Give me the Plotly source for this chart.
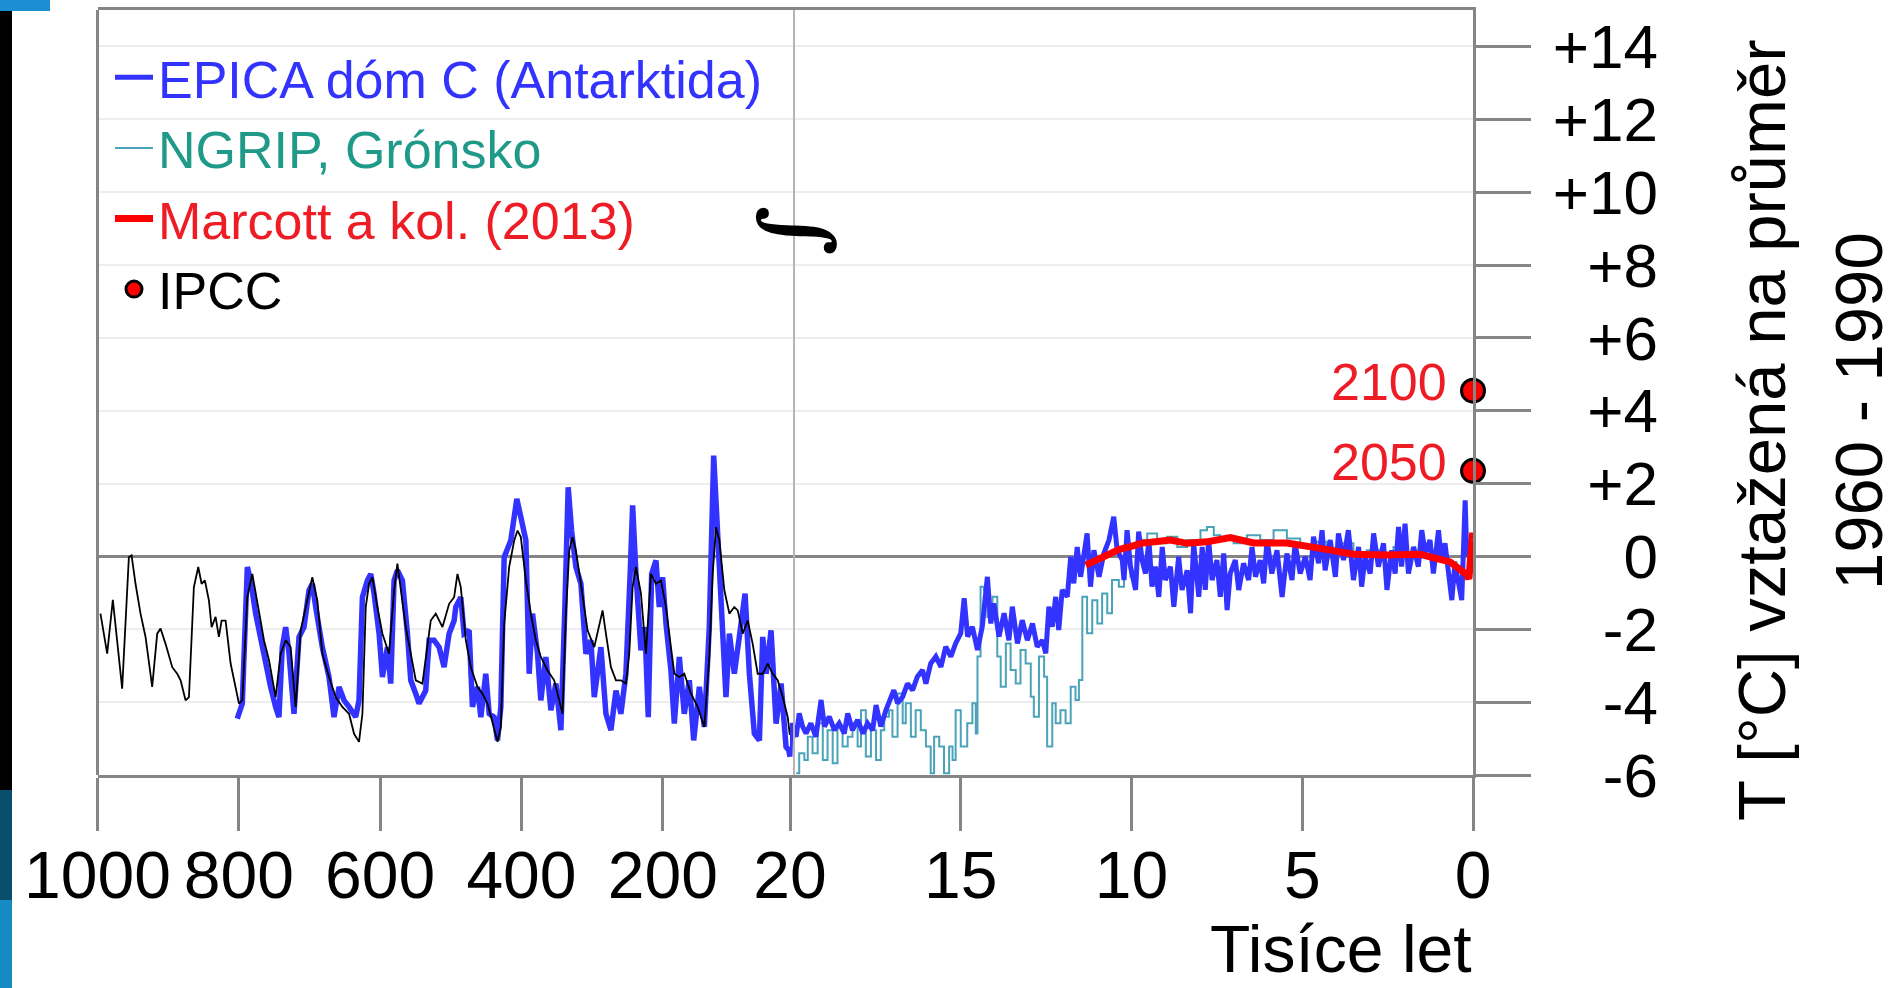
import plotly.graph_objects as go

W, H = 1898, 988

# ---------------- data (thousands of years before present, deg C anomaly) ----------------
black_kyr = [995.8, 986.3, 978.3, 965.1, 955.6, 951.8, 946.2, 939.1, 932.0, 922.6, 915.5, 910.8,
             903.7, 894.2, 887.2, 882.4, 875.4, 870.6, 863.6, 857.4, 852.7, 848.0, 842.3, 838.5,
             832.9, 828.2, 824.4, 818.7, 811.6, 804.5, 799.8, 795.1, 788.0, 780.9, 771.5, 764.4,
             757.3, 747.9, 740.8, 733.7, 726.7, 719.6, 712.5, 705.4, 696.0, 688.9, 681.8, 672.4,
             662.9, 653.5, 644.0, 636.9, 629.9, 625.1, 620.4, 615.7, 611.0, 603.9, 596.8, 587.4,
             580.3, 575.6, 570.9, 563.8, 556.7, 549.6, 540.2, 533.1, 528.4, 521.3, 511.8, 502.4,
             495.3, 490.6, 485.9, 478.8, 471.7, 462.3, 455.2, 448.1, 441.0, 433.9, 429.2, 424.5,
             417.4, 410.3, 405.6, 400.9, 393.8, 386.7, 379.7, 372.6, 363.1, 353.7, 346.6, 341.9,
             337.2, 332.4, 327.7, 323.0, 315.9, 306.5, 297.0, 290.0, 285.2, 280.5, 273.4, 266.3,
             259.3, 252.2, 247.5, 242.7, 238.0, 230.9, 223.9, 216.8, 209.7, 202.6, 195.5, 188.5,
             183.7, 176.6, 169.6, 160.1, 150.7, 141.2, 134.2, 129.4, 124.7, 120.0, 112.9, 105.8,
             98.8, 94.0, 86.9, 79.9, 72.8, 65.7, 58.6, 51.5, 44.5, 37.4, 30.3, 23.2, 20.3]
black_temp = [-1.57, -2.67, -1.19, -3.63, -0.02, 0.03, -0.75, -1.57, -2.21, -3.58, -2.12, -1.98,
              -2.40, -3.04, -3.22, -3.40, -3.95, -3.86, -0.84, -0.29, -0.75, -0.66, -1.21, -1.94,
              -1.66, -2.21, -1.76, -1.76, -2.94, -3.58, -4.04, -3.95, -1.12, -0.48, -1.57, -2.30,
              -2.85, -3.86, -2.67, -2.30, -2.49, -4.13, -2.03, -1.39, -0.57, -1.21, -2.67, -3.31,
              -3.86, -4.13, -4.32, -4.87, -5.09, -4.32, -1.39, -0.75, -0.57, -1.39, -2.12, -2.67,
              -0.93, -0.20, -0.93, -1.94, -2.67, -3.40, -3.49, -2.49, -1.76, -1.57, -1.94, -1.30,
              -1.12, -0.48, -0.84, -2.30, -3.04, -3.58, -3.77, -4.04, -4.59, -5.09, -4.68, -1.85,
              -0.29, 0.44, 0.71, 0.53, -0.66, -1.57, -2.30, -2.76, -3.13, -3.40, -3.95, -4.32,
              -1.57, 0.16, 0.53, 0.16, -0.75, -2.03, -2.49, -1.94, -1.48, -2.12, -3.04, -3.40,
              -3.40, -3.49, -2.67, -0.84, -0.29, -1.02, -2.67, -0.48, -0.75, -0.66, -1.39, -2.49,
              -3.22, -3.31, -3.22, -3.77, -4.13, -4.68, -2.76, -0.48, 0.80, 0.44, -0.93, -1.57,
              -1.39, -1.48, -2.12, -1.76, -2.40, -3.22, -3.22, -2.94, -3.22, -3.40, -3.86, -4.41, -4.9]

epica_kyr = [802.2, 795.1, 788.0, 783.3, 776.2, 769.1, 762.1, 755.0, 747.9, 743.2, 738.5, 733.7,
             729.0, 721.9, 714.8, 707.8, 700.7, 696.0, 691.2, 681.8, 672.4, 665.3, 658.2, 651.1,
             644.0, 634.6, 629.9, 625.1, 618.1, 613.3, 608.6, 601.5, 596.8, 589.7, 585.0, 580.3,
             575.6, 568.5, 561.4, 556.7, 549.6, 544.9, 535.5, 530.7, 523.7, 516.6, 509.5, 502.4,
             495.3, 493.0, 485.9, 481.2, 474.1, 469.4, 462.3, 457.5, 450.5, 445.7, 438.7, 433.9,
             429.2, 424.5, 415.1, 406.6, 400.9, 393.8, 389.1, 384.4, 377.3, 372.6, 365.5, 358.4,
             351.3, 344.2, 338.6, 333.9, 329.1, 323.0, 315.9, 308.8, 301.8, 297.0, 287.6, 280.5,
             273.4, 266.3, 259.3, 252.2, 246.0, 242.7, 238.0, 230.9, 225.3, 220.6, 215.8, 209.7,
             205.0, 200.3, 195.5, 188.5, 183.7, 176.6, 169.6, 162.5, 156.3, 148.3, 141.2, 134.2,
             128.0, 123.3, 117.6, 110.6, 105.8, 98.8, 91.7, 83.6, 77.5, 70.4, 63.3, 58.6,
             53.7, 46.8, 39.7, 32.6, 25.6, 21.8, 20.0,
             20.0, 19.97, 19.82, 19.73, 19.63, 19.53, 19.39, 19.24, 19.09, 18.99, 18.85, 18.70,
             18.56, 18.41, 18.31, 18.17, 18.02, 17.86, 17.73, 17.58, 17.48, 17.34, 17.19, 16.96,
             16.85, 16.70, 16.56, 16.41, 16.27, 16.12, 16.02, 15.88, 15.73, 15.58, 15.44, 15.29,
             15.15, 15.00, 14.90, 14.80, 14.66, 14.51, 14.37, 14.27, 14.22, 14.12, 14.03, 13.88,
             13.73, 13.59, 13.49, 13.34, 13.20, 13.05, 12.90, 12.76, 12.61, 12.51, 12.42, 12.32,
             12.22, 12.13, 12.03, 11.88, 11.78, 11.69, 11.59, 11.49, 11.39, 11.30, 11.20, 11.10,
             10.95, 10.81, 10.66, 10.52, 10.42, 10.27, 10.22, 10.13, 10.03, 9.88, 9.79, 9.69,
             9.59, 9.49, 9.40, 9.30, 9.20, 9.10, 9.01, 8.86, 8.76, 8.62, 8.52, 8.37,
             8.27, 8.18, 8.03, 7.93, 7.84, 7.74, 7.64, 7.50, 7.40, 7.30, 7.20, 7.11,
             6.96, 6.86, 6.72, 6.57, 6.47, 6.37, 6.23, 6.13, 6.03, 5.89, 5.74, 5.59,
             5.45, 5.30, 5.21, 5.06, 4.91, 4.77, 4.67, 4.52, 4.42, 4.33, 4.18, 4.03,
             3.94, 3.79, 3.65, 3.50, 3.35, 3.26, 3.16, 3.01, 2.91, 2.77, 2.62, 2.52,
             2.38, 2.28, 2.18, 2.09, 1.99, 1.89, 1.74, 1.60, 1.50, 1.40, 1.26, 1.16,
             1.01, 0.93, 0.82, 0.72, 0.62, 0.53, 0.43, 0.33, 0.23, 0.18]
epica_temp = [-4.45, -4.04, -0.29, -0.66, -1.57, -2.30, -2.85, -3.58, -4.13, -4.41, -2.49, -1.94,
              -2.67, -4.32, -2.21, -1.94, -0.93, -0.75, -1.39, -2.49, -3.31, -4.41, -3.58, -3.95,
              -4.13, -4.41, -3.95, -1.12, -0.66, -0.48, -1.02, -2.12, -3.31, -2.49, -3.49, -0.66,
              -0.38, -0.66, -2.12, -3.40, -3.77, -4.04, -3.68, -2.30, -2.30, -2.49, -3.04, -2.12,
              -1.76, -1.39, -1.12, -2.12, -2.03, -4.13, -3.58, -4.41, -3.22, -4.32, -4.41, -5.05,
              -4.13, -0.02, 0.44, 1.58, 1.08, 0.44, -3.22, -1.57, -2.67, -3.95, -2.76, -4.22,
              -3.49, -4.77, -1.39, 1.90, 0.71, -0.29, -0.75, -2.67, -2.30, -3.86, -2.49, -4.32,
              -4.77, -3.68, -4.32, -3.22, -0.38, 1.40, -0.48, -2.58, -1.94, -4.41, -0.48, -0.11,
              -1.39, -0.57, -1.85, -3.13, -4.59, -2.76, -4.32, -3.40, -5.05, -3.58, -4.68, -1.94,
              2.77, 0.99, -0.48, -3.86, -2.12, -3.22, -2.21, -1.02, -3.22, -4.87, -5.05, -2.21,
              -3.22, -2.03, -4.59, -3.49, -5.23, -5.32, -5.50,
              -5.22, -4.58, -4.95, -4.31, -4.67, -4.86, -4.58, -4.95, -3.94, -4.67, -4.40, -4.77,
              -4.58, -4.86, -4.31, -4.77, -4.49, -4.86, -4.58, -4.77, -4.08, -4.67, -4.22, -3.67,
              -4.03, -3.85, -3.49, -3.67, -3.30, -3.12, -3.49, -2.94, -2.75, -3.03, -2.48, -2.75,
              -2.39, -2.11, -1.15, -2.20, -1.93, -2.57, -1.93, -1.11, -0.56, -1.84, -1.29, -2.20,
              -1.56, -2.30, -1.38, -2.39, -1.75, -2.30, -1.84, -2.48, -2.30, -2.66, -1.38, -1.93,
              -1.11, -2.02, -0.92, -1.11, -0.01, -0.74, 0.26, -0.56, 0.17, 0.63, -0.83, 0.17,
              -0.56, 0.08, 0.45, 1.09, 0.17, -0.10, -0.65, 0.72, -0.28, -0.92, 0.68, -0.10,
              -0.47, 0.45, -0.83, -0.28, -1.11, 0.26, -0.65, -0.28, -1.38, -0.01, -0.92, -0.38,
              -1.56, 0.36, -1.11, 0.26, -0.92, 0.45, -0.65, -0.10, -1.11, 0.08, -1.47, -0.47,
              -0.10, -0.92, -0.19, -0.65, 0.26, -0.56, -0.10, -0.74, 0.45, -0.47, 0.17, -1.11,
              0.08, -0.65, 0.36, -0.47, -0.01, -0.65, 0.54, -0.19, 0.72, -0.38, 0.45, -0.56,
              0.63, -0.10, 0.72, -0.65, 0.26, -0.83, -0.01, -0.47, 0.63, -0.28, 0.36, -0.92,
              0.17, -0.47, 0.81, -0.28, 0.90, -0.47, 0.26, -0.28, 0.72, 0.08, 0.45, -0.47,
              0.72, -0.10, 0.36, -0.47, -1.20, -0.19, -0.65, -1.20, 1.54, -0.01]

ngrip_kyr = [19.82, 19.73, 19.58, 19.48, 19.34, 19.19, 19.04, 18.90, 18.75, 18.61, 18.46, 18.31,
             18.17, 18.02, 17.92, 17.78, 17.63, 17.48, 17.34, 17.24, 17.10, 17.00, 16.85, 16.70,
             16.61, 16.46, 16.32, 16.17, 16.02, 15.88, 15.78, 15.63, 15.49, 15.34, 15.24, 15.15,
             15.00, 14.81, 14.66, 14.56, 14.51, 14.42, 14.32, 14.22, 14.07, 13.93, 13.83, 13.68,
             13.54, 13.39, 13.25, 13.10, 12.95, 12.86, 12.71, 12.56, 12.47, 12.32, 12.22, 12.08,
             11.93, 11.78, 11.64, 11.54, 11.44, 11.30, 11.15, 11.00, 10.86, 10.71, 10.57, 10.37,
             10.22, 10.03, 9.88, 9.83, 9.54, 9.25, 8.96, 8.66, 8.37, 7.98, 7.79, 7.59,
             7.40, 7.01, 6.62, 6.23, 5.84, 5.45, 5.06, 4.67, 4.28, 3.89, 3.50, 3.11,
             2.72, 2.33, 1.94, 1.55, 1.16, 0.77, 0.48]
ngrip_temp = [-5.95, -5.40, -5.59, -4.95, -5.40, -4.58, -5.59, -4.77, -5.68, -4.67, -5.22, -4.95,
              -4.58, -5.22, -4.22, -5.49, -4.77, -5.59, -4.77, -4.40, -4.22, -4.95, -3.76, -4.58,
              -4.03, -4.95, -4.22, -4.77, -5.22, -5.95, -4.95, -5.22, -5.95, -5.22, -5.59, -4.22,
              -5.22, -4.58, -4.03, -4.86, -2.75, -0.83, -0.92, -1.66, -1.11, -2.75, -3.58, -2.39,
              -3.12, -3.49, -2.57, -2.94, -3.85, -4.40, -2.75, -3.30, -5.22, -4.03, -4.58, -4.22,
              -4.58, -3.58, -3.94, -3.39, -1.11, -2.11, -1.20, -1.84, -1.02, -1.56, -0.65, -0.83,
              -0.19, -0.56, -0.10, 0.45, 0.63, 0.36, 0.54, 0.26, 0.45, 0.72, 0.81, 0.58,
              0.45, 0.36, 0.58, 0.45, 0.72, 0.49, 0.26, 0.40, 0.17, 0.36, 0.08, 0.17,
              -0.01, 0.26, 0.08, -0.01, -0.10, -0.15, -0.28]

marcott_kyr = [11.34, 10.76, 10.37, 9.88, 9.74, 8.86, 8.37, 7.79, 7.11, 6.42, 5.45, 4.47,
               3.50, 2.52, 1.55, 0.67, 0.33, 0.18, 0.12, 0.09, 0.07, 0.05, 0.03, 0.02, 0.01, 0.00]
marcott_temp = [-0.24, 0.04, 0.19, 0.31, 0.36, 0.45, 0.36, 0.40, 0.52, 0.37, 0.37, 0.22,
                0.06, 0.04, 0.06, -0.15, -0.42, -0.50, -0.62, -0.20, -0.55, 0.10, 0.55, 0.20, 0.65, 0.45]

ipcc_kyr = [0, 0]
ipcc_temp = [4.55, 2.35]
ipcc_labels = ["2100", "2050"]

left_ticks = [1000, 800, 600, 400, 200, 20]
right_ticks = [15, 10, 5, 0]
y_ticks = [14, 12, 10, 8, 6, 4, 2, 0, -2, -4, -6]
y_ticktext = ["+14", "+12", "+10", "+8", "+6", "+4", "+2", "0", "-2", "-4", "-6"]

# ---------------- styling ----------------
FONT = "Liberation Sans, Arial, sans-serif"
GRAY = "#858585"
BLUE = "#3333ff"
TEAL = "#4aa3b8"
RED = "#ff0000"


def fx(px):
    return px / W


def fy(py):
    return 1 - py / H


epica_left = [(k, t) for k, t in zip(epica_kyr, epica_temp) if k >= 20]
epica_right = [(k, t) for k, t in zip(epica_kyr, epica_temp) if k <= 20]

fig = go.Figure()

# NGRIP (under EPICA)
fig.add_trace(go.Scatter(x=ngrip_kyr, y=ngrip_temp, xaxis="x2", yaxis="y", mode="lines",
                         line=dict(color=TEAL, width=2, shape="hv"),
                         name="<span style='color:#1f9a88'>NGRIP, Grónsko</span>",
                         legendrank=2, hoverinfo="skip"))
# EPICA
fig.add_trace(go.Scatter(x=[p[0] for p in epica_left], y=[p[1] for p in epica_left],
                         xaxis="x", yaxis="y", mode="lines",
                         line=dict(color=BLUE, width=5.5), showlegend=False,
                         legendgroup="epica", hoverinfo="skip"))
fig.add_trace(go.Scatter(x=[p[0] for p in epica_right], y=[p[1] for p in epica_right],
                         xaxis="x2", yaxis="y", mode="lines",
                         line=dict(color=BLUE, width=5),
                         name="<span style='color:#3333ff'>EPICA dóm C (Antarktida)</span>",
                         legendgroup="epica", legendrank=1, hoverinfo="skip"))
# black reference record (no legend entry)
fig.add_trace(go.Scatter(x=black_kyr, y=black_temp, xaxis="x", yaxis="y", mode="lines",
                         line=dict(color="black", width=1.8), showlegend=False, hoverinfo="skip"))
# Marcott
fig.add_trace(go.Scatter(x=marcott_kyr, y=marcott_temp, xaxis="x2", yaxis="y", mode="lines",
                         line=dict(color=RED, width=7), cliponaxis=False,
                         name="<span style='color:#ee1c25'>Marcott a kol. (2013)</span>",
                         legendrank=3, hoverinfo="skip"))
# IPCC projections
fig.add_trace(go.Scatter(x=ipcc_kyr, y=ipcc_temp, xaxis="x2", yaxis="y2", mode="markers",
                         marker=dict(color=RED, size=23, line=dict(color="black", width=3)),
                         cliponaxis=False, name="IPCC", legendrank=4, hoverinfo="skip"))

xl = [fx(97.5), fx(790)]
xr = [fx(790), fx(1473)]
yd = [fy(775), fy(10)]

axis_common = dict(ticks="outside", ticklen=53, tickwidth=3, tickcolor=GRAY,
                   showline=True, linecolor=GRAY, linewidth=3, mirror=True,
                   showgrid=False, zeroline=False, automargin=False, ticklabelstandoff=-12,
                   tickfont=dict(family=FONT, size=66, color="black"))

fig.update_layout(
    template="none",
    width=W, height=H, autosize=False,
    margin=dict(l=0, r=0, t=0, b=0, pad=0, autoexpand=False),
    paper_bgcolor="white", plot_bgcolor="white",
    xaxis=dict(domain=xl, range=[1000, 20], anchor="y", tickvals=left_ticks,
               ticktext=[str(v) for v in left_ticks], **axis_common),
    xaxis2=dict(domain=xr, range=[20, 0], anchor="y", tickvals=right_ticks,
                ticktext=[str(v) for v in right_ticks], **axis_common),
    yaxis=dict(domain=yd, range=[-6, 15], anchor="x2", side="right", tickvals=y_ticks,
               showticklabels=False, ticks="outside", ticklen=55, tickwidth=3, tickcolor=GRAY,
               showline=True, linecolor=GRAY, linewidth=3, automargin=False,
               showgrid=True, gridcolor="#ededed", gridwidth=2,
               zeroline=True, zerolinecolor=GRAY, zerolinewidth=3),
    yaxis2=dict(domain=yd, range=[-6, 15], overlaying="y", anchor="free", side="left",
                position=fx(1658), tickvals=y_ticks, ticktext=y_ticktext, ticks="",
                showline=False, showgrid=False, zeroline=False, automargin=False,
                tickfont=dict(family=FONT, size=62, color="black")),
    showlegend=True,
    legend=dict(x=fx(110), y=fy(37), xanchor="left", yanchor="top",
                bgcolor="rgba(0,0,0,0)", borderwidth=0, itemwidth=38,
                font=dict(family=FONT, size=52, color="black"), tracegroupgap=0),
)

annotations = []
for k, t, lab in zip(ipcc_kyr, ipcc_temp, ipcc_labels):
    annotations.append(dict(x=k, y=t, xref="x2", yref="y", text=lab, showarrow=False,
                            xanchor="right", yanchor="middle", xshift=-24, yshift=9,
                            font=dict(family=FONT, size=52, color="#ee1c25")))
annotations += [
    dict(x=0, xref="x2", y=0, yref="paper", text="Tisíce let", showarrow=False,
         xanchor="right", yanchor="bottom", borderpad=0, yshift=1,
         font=dict(family=FONT, size=66, color="black")),
    dict(x=fx(1761), y=fy(430), xref="paper", yref="paper", text="T [°C] vztažená na průměr",
         textangle=-90, showarrow=False, xanchor="center", yanchor="middle",
         font=dict(family=FONT, size=67, color="black")),
    dict(x=fx(1858), y=fy(411), xref="paper", yref="paper", text="1960 - 1990",
         textangle=-90, showarrow=False, xanchor="center", yanchor="middle",
         font=dict(family=FONT, size=67, color="black")),
    dict(x=20, xref="x2", y=8.95, yref="y", text="<b>∫</b>", textangle=-90, showarrow=False,
         xanchor="center", yanchor="middle",
         font=dict(family="DejaVu Serif", size=86, color="black")),
]
fig.update_layout(annotations=annotations)

shapes = [
    # left frame border
    dict(type="line", xref="x domain", yref="y domain", x0=0, x1=0, y0=0, y1=1,
         line=dict(color=GRAY, width=3), layer="above"),
    # axis break double line
    dict(type="line", xref="x2", xsizemode="pixel", xanchor=20, x0=-2, x1=-2,
         yref="y domain", y0=0, y1=1, line=dict(color="#b5b5b5", width=2), layer="above"),
    dict(type="line", xref="x2", xsizemode="pixel", xanchor=20, x0=4, x1=4,
         yref="y domain", y0=0, y1=1, line=dict(color="#b5b5b5", width=2), layer="above"),
    # slide decoration on the left edge
    dict(type="rect", xref="paper", yref="paper", x0=0, x1=fx(12), y0=0, y1=1,
         fillcolor="black", line=dict(width=0), layer="above"),
    dict(type="rect", xref="paper", yref="paper", x0=0, x1=fx(12), y0=fy(900), y1=fy(790),
         fillcolor="#0a4d6c", line=dict(width=0), layer="above"),
    dict(type="rect", xref="paper", yref="paper", x0=0, x1=fx(12), y0=0, y1=fy(900),
         fillcolor="#168ac2", line=dict(width=0), layer="above"),
    dict(type="rect", xref="paper", yref="paper", x0=0, x1=fx(50), y0=fy(11), y1=1,
         fillcolor="#1b8fd2", line=dict(width=0), layer="above"),
]
fig.update_layout(shapes=shapes)

fig.write_html("out.html")
